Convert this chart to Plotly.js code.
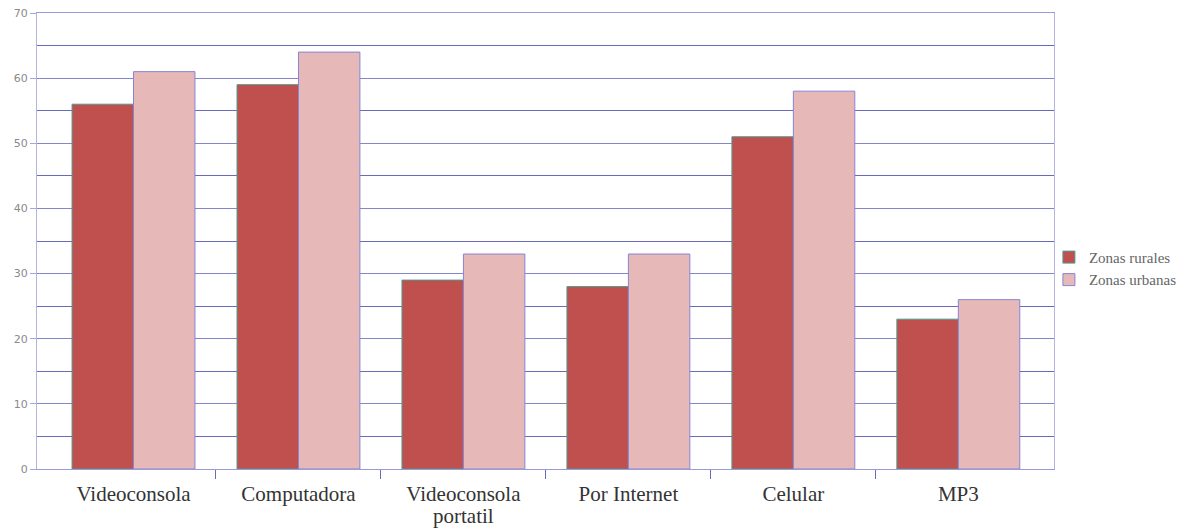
<!DOCTYPE html>
<html><head><meta charset="utf-8">
<script src="https://cdn.plot.ly/plotly-3.0.1.min.js"></script>
<style>html,body{margin:0;padding:0;background:#fff;}#chart{width:1184px;height:528px;}</style>
</head><body><div id="chart"></div>
<script>
const categories = ["Videoconsola", "Computadora", "Videoconsola portatil", "Por Internet", "Celular", "MP3"];
const seriesNames = ["Zonas rurales", "Zonas urbanas"];
const rurales = [56, 59, 29, 28, 51, 23];
const urbanas = [61, 64, 33, 33, 58, 26];
const yTicks = [0, 10, 20, 30, 40, 50, 60, 70];

const idx = categories.map((c, i) => i);
const boundaries = idx.slice(1).map(i => i - 0.5);
const serif = 'Liberation Serif, Times New Roman, serif';

// first line of each label on the axis, wrapped second line (tight spacing) as annotation
const firstLines = categories.map(c => c === 'Videoconsola portatil' ? 'Videoconsola' : c);
const secondLines = categories.map(c => c === 'Videoconsola portatil' ? 'portatil' : '');
const wrapAnn = idx.filter(i => secondLines[i]).map(i => ({
  x: i, xref: 'x', y: -0.103, yref: 'paper', yanchor: 'middle', xanchor: 'center',
  text: secondLines[i], showarrow: false,
  font: {family: serif, size: 21, color: '#333333'}
}));

const data = [
  {type: 'bar', name: seriesNames[0], x: idx, y: rurales,
   marker: {color: '#c0504d', line: {color: '#4f9a8e', width: 1}}},
  {type: 'bar', name: seriesNames[1], x: idx, y: urbanas,
   marker: {color: '#e6b8b7', line: {color: '#8585d6', width: 1}}},
  {type: 'scatter', x: [0], y: [0], xaxis: 'x2', showlegend: false, hoverinfo: 'skip', mode: 'markers', marker: {opacity: 0}}
];

const layout = {
  width: 1184, height: 528,
  margin: {l: 37, r: 130, t: 13, b: 59, autoexpand: false},
  paper_bgcolor: '#ffffff', plot_bgcolor: '#ffffff',
  barmode: 'group', bargap: 0.255, bargroupgap: 0,
  annotations: wrapAnn,
  xaxis: {
    range: [-0.585, 5.58], tickvals: idx, ticktext: firstLines,
    ticks: '', showgrid: false, zeroline: false, automargin: false,
    showline: true, linecolor: '#9a9ad6', linewidth: 1, mirror: true,
    ticklabelstandoff: 6,
    tickfont: {family: serif, size: 21, color: '#333333'}
  },
  xaxis2: {
    overlaying: 'x', range: [-0.585, 5.58], tickvals: boundaries, ticktext: boundaries.map(() => ''),
    ticks: 'outside', ticklen: 9, tickcolor: '#6a6ac4', tickwidth: 1, automargin: false,
    showgrid: false, zeroline: false, showline: false, side: 'bottom', anchor: 'y'
  },
  yaxis: {
    range: [0, 70], tickvals: yTicks, ticks: 'outside', ticklen: 6, tickcolor: '#a8a8d8',
    gridcolor: '#8585cc', gridwidth: 1, zeroline: false, automargin: false,
    minor: {dtick: 5, showgrid: true, gridcolor: '#6a6abd', gridwidth: 1, ticks: ''},
    showline: true, linecolor: '#b4b4e0', linewidth: 1, mirror: true,
    tickfont: {family: 'DejaVu Sans, sans-serif', size: 11, color: '#8a8a8a'}
  },
  legend: {
    x: 0.995, xanchor: 'left', y: 0.44, yanchor: 'middle',
    font: {family: serif, size: 15, color: '#666666'},
    itemwidth: 30, tracegroupgap: 0, bgcolor: 'rgba(0,0,0,0)'
  },
  showlegend: true
};

Plotly.newPlot('chart', data, layout, {displayModeBar: false, staticPlot: true});
</script></body></html>
